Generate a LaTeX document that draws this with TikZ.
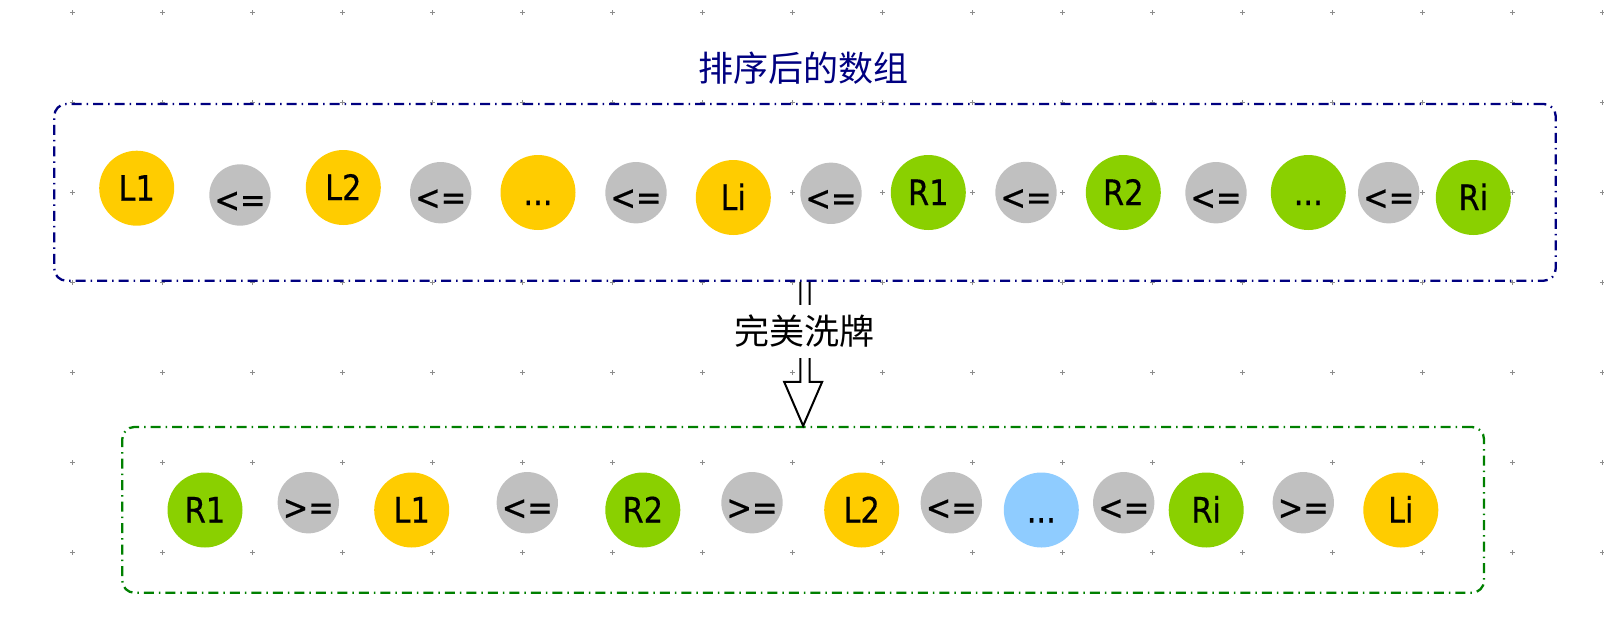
\documentclass[tikz,border=0pt]{standalone}
\usepackage{fontspec}
\newfontfamily\cjk{Noto Sans CJK SC}
\newfontfamily\lbl[FakeStretch=0.87,FakeBold=0.4]{DejaVu Sans}
\usepackage{xcolor}
\usepackage{tikz}
\usetikzlibrary{shapes, calc}
\definecolor{lyellow}{HTML}{FFCC00}
\definecolor{rgreen}{HTML}{8AD000}
\definecolor{cmpgray}{HTML}{C0C0C0}
\definecolor{midblue}{HTML}{8FCCFF}
\definecolor{navyline}{HTML}{000080}
\definecolor{greenline}{HTML}{008000}
\definecolor{markgray}{HTML}{8C8C8C}
\tikzset{
        x=1pt, y=1pt, % one unit is one pixel of the sketch
    }
\tikzstyle{elem}=[circle,inner sep=0pt,font=\lbl\fontsize{35}{40}\selectfont,text height=25pt,text depth=0pt]
\tikzstyle{lnode}=[elem,fill=lyellow,minimum size=75pt]
\tikzstyle{rnode}=[elem,fill=rgreen,minimum size=75pt]
\tikzstyle{mnode}=[elem,fill=midblue,minimum size=75pt]
\tikzstyle{cmp}=[elem,fill=cmpgray,minimum size=60pt,text height=34pt]
\tikzstyle{sortbox}=[draw=navyline,line width=2.3pt,rounded corners=12pt,dash pattern=on 10pt off 5pt on 1.5pt off 5pt]
\tikzstyle{shufbox}=[draw=greenline,line width=2.3pt,rounded corners=12pt,dash pattern=on 10pt off 5pt on 1.5pt off 5pt]
\tikzstyle{gridmark}=[draw=markgray,line width=1pt]
\tikzstyle{hollow}=[draw=black,line width=2pt,line join=miter]

\begin{document}
\begin{tikzpicture}
    \useasboundingbox (0,0) rectangle (1604,-638);
    % dotted canvas
    \foreach \i in {0,...,17}
        \foreach \j in {0,...,6}
            \draw[gridmark] (72.3+90*\i,-12.3-90*\j) +(-2.5,0) -- +(2.5,0) +(0,-2.5) -- +(0,2.5);

    % sorted array
    \node[sortbox,minimum width=1501.4pt,minimum height=176.7pt] (sorted) at (805,-192.35) {};
    \node[text=navyline,font=\cjk\fontsize{35}{40}\selectfont] (title) at (803,-68.5) {排序后的数组};

    \node[lnode] (tL1) at (136.7,-188.2) {L1};
    \node[cmp] (tc1) at (240,-195) {<=};
    \node[lnode] (tL2) at (343.3,-187.5) {L2};
    \node[cmp] (tc2) at (440.7,-192.7) {<=};
    \node[lnode] (tLd) at (538,-192.5) {...};
    \node[cmp] (tc3) at (636,-192.7) {<=};
    \node[lnode] (tLi) at (733.3,-197.5) {Li};
    \node[cmp] (tc4) at (831,-193.3) {<=};
    \node[rnode] (tR1) at (928.3,-192.5) {R1};
    \node[cmp] (tc5) at (1026,-192.5) {<=};
    \node[rnode] (tR2) at (1123.3,-192.5) {R2};
    \node[cmp] (tc6) at (1216,-192.7) {<=};
    \node[rnode] (tRd) at (1308.3,-192.5) {...};
    \node[cmp] (tc7) at (1388.7,-192.7) {<=};
    \node[rnode] (tRi) at (1473.3,-197.5) {Ri};

    % shuffled array
    \node[shufbox,minimum width=1361.7pt,minimum height=165.7pt] (shuffled) at (803.15,-509.85) {};
    \node[rnode] (bR1) at (205,-510) {R1};
    \node[cmp] (bc1) at (308.3,-502.7) {>=};
    \node[lnode] (bL1) at (411.7,-510) {L1};
    \node[cmp] (bc2) at (527.3,-502.7) {<=};
    \node[rnode] (bR2) at (642.8,-510) {R2};
    \node[cmp] (bc3) at (752,-502.7) {>=};
    \node[lnode] (bL2) at (861.7,-510) {L2};
    \node[cmp] (bc4) at (951.3,-502.7) {<=};
    \node[mnode] (bd) at (1041.3,-510) {...};
    \node[cmp] (bc5) at (1123.7,-502.7) {<=};
    \node[rnode] (bRi) at (1206.2,-510) {Ri};
    \node[cmp] (bc6) at (1303.3,-502.7) {>=};
    \node[lnode] (bLi) at (1400.8,-510) {Li};

    % the shuffle step
    \draw[hollow] let \p1=(sorted.south), \p2=(shuffled.north) in
        (\x1-4.6,\y1) -- (\x1-4.6,\y2+44) -- (\x2-19,\y2+44) -- (\x2,\y2)
        -- (\x2+19,\y2+44) -- (\x1+4.6,\y2+44) -- (\x1+4.6,\y1);
    \node[fill=white,inner sep=10pt,font=\cjk\fontsize{35}{40}\selectfont] (shuffle)
        at ($(sorted.south)!0.345!(shuffled.north)$) {完美洗牌};
\end{tikzpicture}
\end{document}
